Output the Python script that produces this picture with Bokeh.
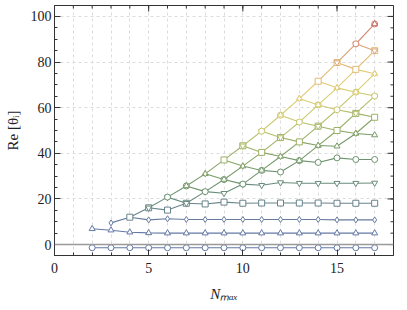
import math
from bokeh.plotting import figure
from bokeh.models import Range1d, SingleIntervalTicker, Span
from bokeh.embed import file_html
from bokeh.resources import INLINE

# ---------------- data ----------------
nmax = list(range(2, 18))
# Re[theta_i] at each N_max (sorted ascending, complex pairs share the same real part)
theta_2 = [-1.4, 6.9]
theta_3 = [-1.4, 6.3, 9.5]
theta_4 = [-1.4, 5.4, 12.0, 12.0]
theta_5 = [-1.4, 5.1, 10.8, 16.1, 16.1]
theta_6 = [-1.4, 5.0, 11.3, 15.1, 20.8, 20.8]
theta_7 = [-1.4, 5.0, 11.0, 18.1, 18.1, 25.7, 25.7]
theta_8 = [-1.4, 5.0, 11.0, 17.8, 23.2, 23.2, 31.0, 31.0]
theta_9 = [-1.4, 5.0, 11.0, 18.6, 22.5, 28.5, 28.5, 37.1, 37.1]
theta_10 = [-1.4, 5.0, 11.0, 18.1, 26.5, 26.5, 34.4, 34.4, 43.3, 43.3]
theta_11 = [-1.4, 5.0, 11.0, 18.2, 26.0, 32.5, 32.5, 40.4, 40.4, 49.7, 49.7]
theta_12 = [-1.4, 5.0, 11.0, 18.2, 27.2, 31.8, 38.6, 38.6, 46.9, 46.9, 56.7, 56.7]
theta_13 = [-1.4, 5.0, 11.0, 18.2, 26.9, 36.8, 36.8, 45.0, 45.0, 53.7, 53.7, 64.0, 64.0]
theta_14 = [-1.4, 5.0, 11.0, 18.2, 26.9, 36.0, 43.4, 43.4, 51.9, 51.9, 61.2, 61.2, 71.6, 71.6]
theta_15 = [-1.4, 5.0, 10.8, 18.1, 26.9, 38.0, 43.1, 50.0, 50.0, 59.1, 59.1, 68.7, 68.7, 79.8, 79.8]
theta_16 = [-1.4, 5.0, 10.8, 18.1, 26.9, 37.3, 48.7, 48.7, 57.5, 57.5, 66.8, 66.8, 76.8, 76.8, 88.0, 88.0]
theta_17 = [-1.4, 5.0, 10.8, 18.1, 27.0, 37.3, 48.0, 55.8, 55.8, 65.1, 65.1, 74.9, 74.9, 85.0, 85.0, 96.7, 96.7]
thetas = [theta_2, theta_3, theta_4, theta_5, theta_6, theta_7, theta_8, theta_9,
          theta_10, theta_11, theta_12, theta_13, theta_14, theta_15, theta_16, theta_17]

x_major = [0, 5, 10, 15]
y_major = [0, 20, 40, 60, 80, 100]
x_minor = list(range(0, 19))
y_minor = list(range(0, 105, 5))

X0, X1 = 0, 18
Y0, Y1 = -4.8, 104.8

# ---------------- style ----------------
stops = [(0.237736, 0.340215, 0.575113), (0.253651, 0.344893, 0.558151),
         (0.264425, 0.423024, 0.384900), (0.291469, 0.477170, 0.271411),
         (0.416394, 0.555345, 0.241820), (0.624866, 0.673302, 0.264296),
         (0.813033, 0.766292, 0.303458), (0.877875, 0.731045, 0.326896),
         (0.812807, 0.518694, 0.303459), (0.729870, 0.239399, 0.230961)]


def ramp(t, lighten=0.2):
    t = min(max(t, 0.0), 1.0) * (len(stops) - 1)
    k = min(int(t), len(stops) - 2)
    f = t - k
    c = [stops[k][j] * (1 - f) + stops[k + 1][j] * f for j in range(3)]
    c = [v * (1 - lighten) + lighten for v in c]
    return "#%02x%02x%02x" % tuple(int(round(v * 255)) for v in c)


markers = ["circle", "triangle", "diamond", "square", "inverted_triangle"]
n_series = max(len(t) for t in thetas)

FONT = "Liberation Serif"
AX = "#333333"
p = figure(width=405, height=308, x_range=Range1d(X0, X1), y_range=Range1d(Y0, Y1),
           output_backend="svg", toolbar_location=None,
           min_border_left=54, min_border_right=12, min_border_top=5, min_border_bottom=53)
p.background_fill_color = "white"
p.outline_line_color = AX

# grids
p.xgrid.ticker = SingleIntervalTicker(interval=1)
p.ygrid.ticker = SingleIntervalTicker(interval=20)
for g in (p.xgrid, p.ygrid):
    g.grid_line_color = "#dcdcdc"
    g.grid_line_dash = "3 3"
    g.grid_line_width = 1

# axes (ticks drawn inward)
p.xaxis.ticker = SingleIntervalTicker(interval=5, num_minor_ticks=5)
p.yaxis.ticker = SingleIntervalTicker(interval=20, num_minor_ticks=4)
for ax in (p.xaxis[0], p.yaxis[0]):
    ax.major_tick_in = 6
    ax.major_tick_out = 0
    ax.minor_tick_in = 3
    ax.minor_tick_out = 0
    ax.axis_line_color = AX
    ax.major_tick_line_color = AX
    ax.minor_tick_line_color = AX
    ax.major_label_text_font = FONT
    ax.major_label_text_font_size = "14px"
    ax.major_label_text_color = "#222222"
    ax.axis_label_text_font = FONT
    ax.axis_label_text_color = "#222222"
    ax.axis_label_text_font_size = "15px"
p.yaxis.major_label_standoff = 3
p.xaxis.major_label_standoff = 7

p.xaxis.axis_label = "Nₘₐₓ"
p.xaxis.axis_label_text_font_style = "italic"
p.xaxis.axis_label_standoff = 10
p.yaxis.axis_label = "Re [θᵢ]"
p.yaxis.axis_label_text_font_style = "normal"
p.yaxis.axis_label_standoff = 7

# mirrored inward ticks on the top and right frame edges
p.scatter(x_minor, [Y1] * len(x_minor), marker="dash", angle=math.pi / 2, size=6,
          line_color=AX, line_width=1)
p.scatter(x_major, [Y1] * len(x_major), marker="dash", angle=math.pi / 2, size=12,
          line_color=AX, line_width=1)
p.scatter([X1] * len(y_minor), y_minor, marker="dash", size=6, line_color=AX, line_width=1)
p.scatter([X1] * len(y_major), y_major, marker="dash", size=12, line_color=AX, line_width=1)

p.add_layout(Span(location=0, dimension="width", line_color="#9a9a9a", line_width=1.5))

# series
series = []
for i in range(n_series):
    xs = [n for n, t in zip(nmax, thetas) if len(t) > i]
    ys = [t[i] for t in thetas if len(t) > i]
    col = ramp(i / (n_series - 1))
    series.append((xs, ys, col, markers[i % len(markers)]))
    p.line(xs, ys, line_color=col, line_width=1.1)

for xs, ys, col, mk in series:
    p.scatter(xs, ys, marker=mk, size=6, fill_color="white", line_color=col, line_width=1)

open("out.html", "w").write(file_html(p, INLINE))
